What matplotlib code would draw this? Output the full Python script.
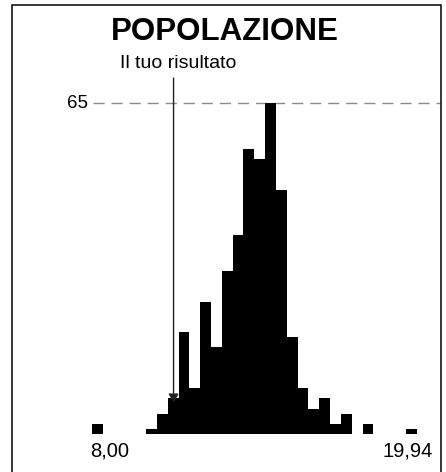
import matplotlib
matplotlib.use('Agg')

import matplotlib.pyplot as plt
import matplotlib.font_manager as fm
from matplotlib.patches import Rectangle
import numpy as np

# === data ===
X_MIN, X_MAX = 8.00, 19.94
N_BINS = 30
COUNTS = [2, 0, 0, 0, 0, 1, 4, 7, 20, 9,
          26, 17, 32, 39, 56, 54, 65, 48, 19, 9,
          5, 7, 2, 4, 0, 2, 0, 0, 0, 1]
PEAK = 65
RESULT = 11.0
TITLE = 'POPOLAZIONE'
RESULT_LABEL = 'Il tuo risultato'
MIN_LABEL = '8,00'
MAX_LABEL = '19,94'

names = {f.name for f in fm.fontManager.ttflist}
narrow = 'Liberation Sans Narrow' in names
print('narrow available:', narrow)
plt.rcParams['font.family'] = ['Liberation Sans', 'DejaVu Sans']
label_family = ['Liberation Sans Narrow', 'Liberation Sans'] if narrow else ['Liberation Sans']
k = 1.0 / 0.82 if narrow else 1.0

W, H = 446, 472
fig = plt.figure(figsize=(W / 100, H / 100), dpi=100)
ax = fig.add_axes([0, 0, 1, 1])
ax.axis('off')

# pixel mapping: 8.00 -> px 92, 19.94 -> px 416.6 ; baseline px 434 (from top), 65 -> px 103
px_per_x = (416.6 - 92) / (X_MAX - X_MIN)
px_per_y = (434 - 103) / PEAK
ax.set_xlim(X_MIN - 92 / px_per_x, X_MIN + (W - 92) / px_per_x)
ax.set_ylim(-(H - 434) / px_per_y, 434 / px_per_y)

edges = np.linspace(X_MIN, X_MAX, N_BINS + 1)
width = edges[1] - edges[0]
ax.bar(edges[:-1], COUNTS, width=width, align='edge', color='black',
       edgecolor='none', linewidth=0, zorder=2)

# dashed reference line at the peak
x_right = X_MIN + (440.5 - 92) / px_per_x
ax.hlines(PEAK, X_MIN + 0.04, x_right, colors='#8a8a8a', linestyles=(0, (8, 5)),
          linewidth=1.0, zorder=1)
ax.text(X_MIN - 4 / px_per_x, PEAK, str(PEAK), ha='right', va='center',
        fontsize=13.5 * k, color='black', family=label_family)

# arrow for the user's result
tip_y = COUNTS[int((RESULT - X_MIN) // width)] - 0.8
top_y = (434 - 78) / px_per_y
ax.annotate('', xy=(RESULT, tip_y), xytext=(RESULT, top_y),
            arrowprops=dict(arrowstyle='-|>,head_length=0.5,head_width=0.3',
                            color='#222222', lw=1.0, shrinkA=0, shrinkB=0),
            zorder=4)
ax.text(RESULT + 5 / px_per_x, (434 - 63) / px_per_y, RESULT_LABEL,
        ha='center', va='center', fontsize=14 * k, color='black',
        family=label_family)

# range labels
ax.text(X_MIN - 2 / px_per_x, -(451 - 434) / px_per_y, MIN_LABEL, ha='left',
        va='center', fontsize=14.5 * k, color='black', family=label_family)
ax.text(X_MIN + (433 - 92) / px_per_x, -(451 - 434) / px_per_y, MAX_LABEL,
        ha='right', va='center', fontsize=14.5 * k, color='black',
        family=label_family)

# title
fig.text(225 / W, 1 - 32 / H, TITLE, ha='center', va='center',
         fontsize=22.5, fontweight='bold', color='black')

# frame (bottom edge runs off the picture)
fig.add_artist(Rectangle((12 / W, -0.05), (440.5 - 12) / W, 1.05 - 5 / H,
                         transform=fig.transFigure, fill=False,
                         edgecolor='black', linewidth=1.1))

fig.savefig('out.png', dpi=100, facecolor='white')
plt.close(fig)
